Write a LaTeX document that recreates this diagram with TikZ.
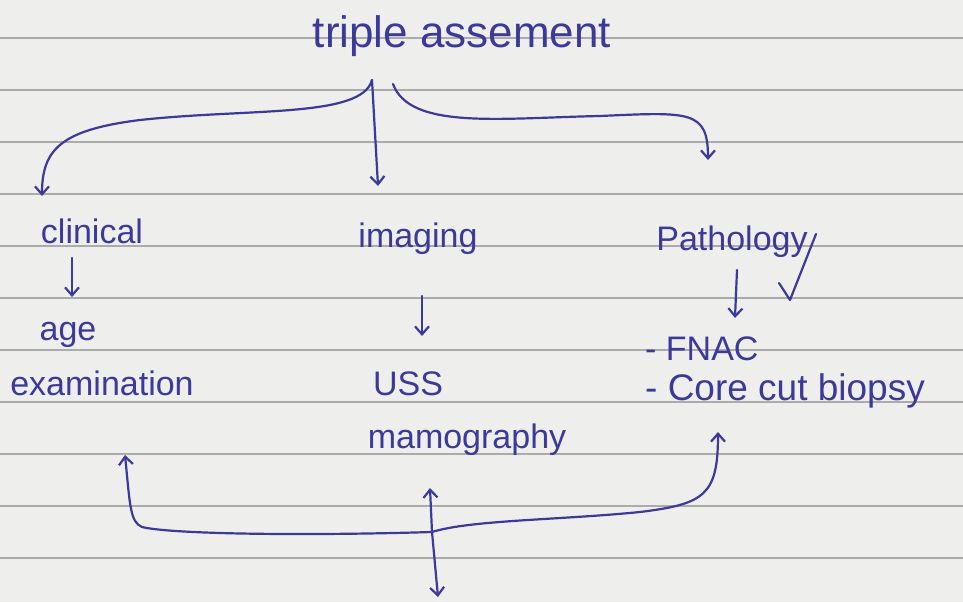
\documentclass[tikz,border=0pt]{standalone}
\usepackage{fontspec}
\setmainfont{Liberation Sans}
\usetikzlibrary{arrows.meta}
\definecolor{ink}{HTML}{3B3A98}
\definecolor{paper}{HTML}{EEEEEC}
\definecolor{rule}{HTML}{ABABAB}
\tikzset{
  pen/.style={draw=ink, line width=2.2pt, line cap=round, line join=round},
  arr/.style={pen, -{Straight Barb[length=8pt,width=14pt]}},
  ruled/.style={draw=rule, line width=1.5pt},
  lab/.style={text=ink, font=\fontsize{34}{40}\selectfont, inner sep=0pt, anchor=base},
  ttl/.style={lab, font=\fontsize{44}{50}\selectfont},
}

\begin{document}
\begin{tikzpicture}[x=1pt,y=-1pt]
  \fill[paper] (0,0) rectangle (963,602);
  \useasboundingbox (0,0) rectangle (963,602);

  % ruled lines of the page
  \foreach \k in {0,...,10}
    \draw[ruled] (0,38+52*\k) -- (963,38+52*\k);

  \node[ttl] (title) at (462,48) {triple assement};

  \node[lab] (clin) at (92,243) {clinical};
  \node[lab] (img) at (418,247) {imaging};
  \node[lab] (path) at (732,250) {Pathology};

  \node[lab] (age) at (68,340) {age};
  \node[lab] (exam) at (102,395) {examination};
  \node[lab] (uss) at (408,395) {USS};
  \node[lab] (mammo) at (467,448) {mamography};
  \node[lab,anchor=base west] (fnac) at (645,360) {- FNAC};
  \node[lab,anchor=base west,font=\fontsize{37}{42}\selectfont] (core) at (645,400) {- Core cut biopsy};

  \coordinate (fork) at (372,80);
  \coordinate (forkR) at (393,84);
  \coordinate (clinTop) at (42,196);
  \coordinate (imgTop) at (378,186);
  \coordinate (pathTop) at (708,160);

  % three branches
  \draw[arr] (fork) .. controls (362,118) and (250,108) .. (140,120)
    .. controls (60,130) and (42,150) .. (clinTop);
  \draw[arr] (fork) -- (imgTop);
  \draw[arr] (forkR) .. controls (410,130) and (500,118) .. (600,116)
    .. controls (690,112) and (708,110) .. (pathTop);

  \coordinate (clinA) at (72,258);
  \coordinate (clinB) at (72,297);
  \coordinate (imgA) at (422,296);
  \coordinate (imgB) at (422,336);
  \coordinate (pathA) at (737,270);
  \coordinate (pathB) at (735,318);
  \coordinate (tickA) at (816,234);
  \coordinate (tickB) at (790,300);
  \coordinate (tickC) at (779,283);

  \draw[arr] (clinA) -- (clinB);
  \draw[arr] (imgA) -- (imgB);
  \draw[arr] (pathA) -- (pathB);
  \draw[pen] (tickA) -- (tickB) -- (tickC);

  % bracket at the bottom
  \coordinate (hub) at (432,532);
  \coordinate (examUp) at (125,455);
  \coordinate (mammoUp) at (430,488);
  \coordinate (coreUp) at (718,432);
  \coordinate (down) at (438,597);

  \draw[arr] (hub) .. controls (300,536) and (170,534) .. (142,527)
    .. controls (130,522) and (130,505) .. (examUp);
  \draw[arr] (hub) .. controls (470,520) and (560,520) .. (640,512)
    .. controls (705,504) and (718,495) .. (coreUp);
  \draw[arr] (hub) -- (mammoUp);
  \draw[arr] (hub) -- (down);
\end{tikzpicture}
\end{document}
